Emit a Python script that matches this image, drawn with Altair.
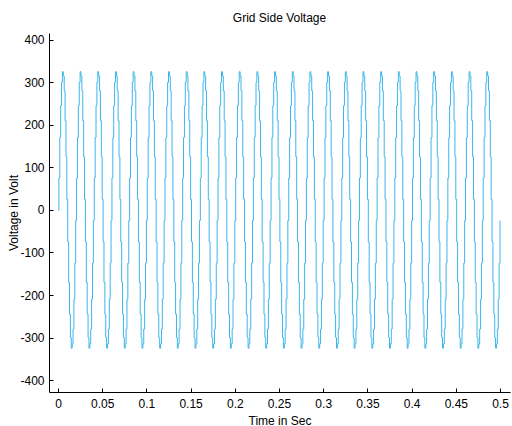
import altair as alt
import numpy as np
import pandas as pd

cycle_volts = [-25, 75, 170, 245, 300, 325, 315, 280, 210, 125,
               25, -75, -170, -245, -300, -325, -315, -280, -210, -125]
n_cycles = 25
dt = 0.001
x_ticks = [0, 0.05, 0.1, 0.15, 0.2, 0.25, 0.3, 0.35, 0.4, 0.45, 0.5]
y_ticks = [-400, -300, -200, -100, 0, 100, 200, 300, 400]

volts = list(cycle_volts) * n_cycles + [cycle_volts[0]]
volts[0] = 0
times = np.arange(len(volts)) * dt
df = pd.DataFrame({"t": times, "v": volts})

W, H = 461, 359
xs = alt.Scale(domain=[-0.0102, 0.5113], nice=False, zero=False)
ys = alt.Scale(domain=[-428, 416], nice=False, zero=False)
font = "Liberation Sans"

line = alt.Chart(df).mark_line(color="#3cb6ea", strokeWidth=1, interpolate="step-after").encode(
    x=alt.X("t:Q", scale=xs, axis=alt.Axis(values=x_ticks, title="Time in Sec", ticks=False,
                                           labelPadding=6, titlePadding=6, format="~g",
                                           labelFlush=False)),
    y=alt.Y("v:Q", scale=ys, axis=alt.Axis(values=y_ticks, title="Voltage in Volt", ticks=False,
                                           labelPadding=5, titleX=-29, titleY=H / 2,
                                           titleBaseline="bottom", titleAngle=270,
                                           labelExpr="'' + datum.value")),
)

tick_layer = alt.Chart(df).mark_line(opacity=0).encode(
    x=alt.X("t:Q", scale=xs, axis=alt.Axis(values=x_ticks, orient="top", offset=-H, labels=False,
                                           domain=False, title=None, tickSize=4,
                                           tickColor="black")),
    y=alt.Y("v:Q", scale=ys, axis=alt.Axis(values=y_ticks, orient="right", offset=-W, labels=False,
                                           domain=False, title=None, tickSize=4,
                                           tickColor="black")),
)

chart = alt.layer(line, tick_layer).resolve_axis(x="independent", y="independent").properties(
    width=W, height=H,
    title=alt.TitleParams("Grid Side Voltage", font=font, fontSize=12, fontWeight="normal",
                          color="black", offset=8),
    autosize=alt.AutoSizeParams(type="none"),
    padding={"left": 49, "top": 33, "right": 2, "bottom": 34},
).configure_view(stroke=None).configure_axis(
    labelFont=font, titleFont=font, labelFontSize=12, titleFontSize=12,
    titleFontWeight="normal", labelColor="black", titleColor="black",
    domainColor="black", grid=False,
)

chart.save("out.html", embed_options={"renderer": "svg", "actions": False})
